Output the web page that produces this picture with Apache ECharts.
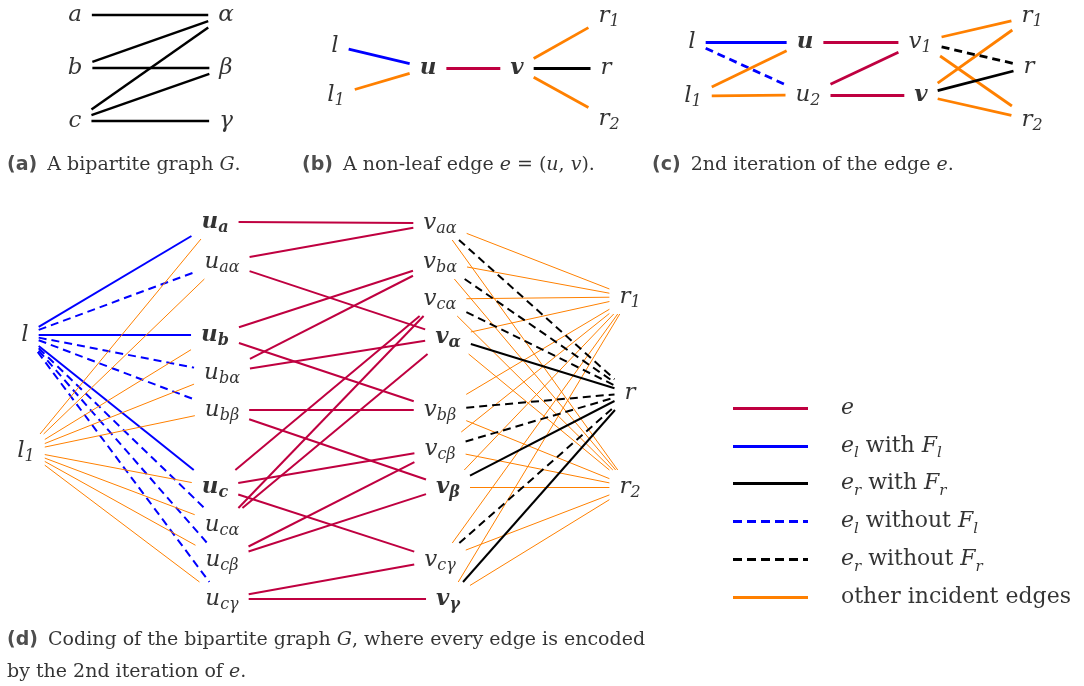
<!DOCTYPE html>
<html lang="en">
<head>
<meta charset="UTF-8">
<title>Coding of a bipartite graph</title>
<script src="https://cdn.jsdelivr.net/npm/echarts@6/dist/echarts.min.js"></script>
<style>
  html, body { margin: 0; padding: 0; background: #fff; }
  #chart { width: 1084px; height: 686px; }
</style>
</head>
<body>
<div id="chart"></div>
<script>
// ---------- data ----------
// the bipartite graph G
var leftNodes = ['a', 'b', 'c'];
var rightNodes = ['α', 'β', 'γ'];
var edgesG = [['a', 'α'], ['b', 'α'], ['b', 'β'], ['c', 'α'], ['c', 'β'], ['c', 'γ']];

// (b) a non-leaf edge e = (u, v): [from, to, kind]
var edgesB = [['l', 'u', 'elF'], ['l_1', 'u', 'o'], ['u', 'v', 'e'],
              ['v', 'r_1', 'o'], ['v', 'r', 'erF'], ['v', 'r_2', 'o']];

// (c) 2nd iteration of e (also the template used for every edge in (d))
var edgesC = [['l', 'u', 'elF'], ['l', 'u_2', 'el'], ['l_1', 'u', 'o'], ['l_1', 'u_2', 'o'],
              ['u', 'v_1', 'e'], ['u_2', 'v_1', 'e'], ['u_2', 'v', 'e'],
              ['v_1', 'r_1', 'o'], ['v_1', 'r', 'er'], ['v_1', 'r_2', 'o'],
              ['v', 'r_1', 'o'], ['v', 'r', 'erF'], ['v', 'r_2', 'o']];

var boldNodes = ['u', 'v', 'u_a', 'u_b', 'u_c', 'v_α', 'v_β', 'v_γ'];

var legendKinds = ['e', 'elF', 'erF', 'el', 'er', 'o'];
var legendLabels = [
    '{li|e}',
    '{li|e}{ls|l}{lg| with }{li|F}{ls|l}',
    '{li|e}{ls|r}{lg| with }{li|F}{ls|r}',
    '{li|e}{ls|l}{lg| without }{li|F}{ls|l}',
    '{li|e}{ls|r}{lg| without }{li|F}{ls|r}',
    '{lg|other incident edges}'
];

var captions = [
    '{cb|(a)}{ct| A bipartite graph }{ci|G}{ct|.}',
    '{cb|(b)}{ct| A non-leaf edge }{ci|e}{ct| = (}{ci|u}{ct|, }{ci|v}{ct|).}',
    '{cb|(c)}{ct| 2nd iteration of the edge }{ci|e}{ct|.}',
    '{cb|(d)}{ct| Coding of the bipartite graph }{ci|G}{ct|, where every edge is encoded}\n{ct|by the 2nd iteration of }{ci|e}{ct|.}'
];

// ---------- layout (pixel positions) ----------
var posA = {a: [75, 15], b: [75, 68], c: [75, 121], 'α': [226, 15], 'β': [226, 68], 'γ': [226, 121]};
var posB = {l: [335, 46], l_1: [336, 95], u: [428, 68], v: [517, 68],
            r_1: [609, 16], r: [606, 68], r_2: [609, 119]};
var posC = {l: [692, 42], l_1: [693, 96], u: [805, 42], u_2: [808, 95], v_1: [920, 42], v: [921, 95],
            r_1: [1032, 16], r: [1029, 67], r_2: [1032, 120]};
var posD = {
    l: [25, 335], l_1: [26, 451],
    u_a: [215, 222], 'u_aα': [222, 262], u_b: [215, 335], 'u_bα': [222, 373], 'u_bβ': [222, 410],
    u_c: [215, 487], 'u_cα': [222, 525], 'u_cβ': [222, 560], 'u_cγ': [222, 599],
    'v_aα': [440, 223], 'v_bα': [440, 262], 'v_cα': [440, 299], 'v_α': [448, 337],
    'v_bβ': [440, 410], 'v_cβ': [440, 449], 'v_β': [448, 487], 'v_cγ': [440, 560], 'v_γ': [448, 599],
    r_1: [630, 297], r: [630, 393], r_2: [630, 487]
};
var captionPos = [[7, 165], [302, 165], [652, 165], [7, 656]];
var legendX = [733, 808], legendTextX = 841, legendY0 = 408, legendStep = 37.8;

var FONT = '"DejaVu Serif", serif';
var MAIN = 23, SUB = 16;
var kinds = {
    g:   {color: '#000000', type: 'solid'},
    e:   {color: '#bf0040', type: 'solid'},
    elF: {color: '#0000ff', type: 'solid'},
    erF: {color: '#000000', type: 'solid'},
    el:  {color: '#0000ff', type: [8, 5]},
    er:  {color: '#000000', type: [8, 5]},
    o:   {color: '#ff8000', type: 'solid'}
};

// (a) edges from G, (d) edges: template (c) applied to every edge of G
var edgesA = edgesG.map(function (p) { return [p[0], p[1], 'g']; });
var edgesD = [];
var seen = {};
edgesG.forEach(function (p) {
    var map = {l: 'l', l_1: 'l_1', r: 'r', r_1: 'r_1', r_2: 'r_2',
               u: 'u_' + p[0], u_2: 'u_' + p[0] + p[1], v_1: 'v_' + p[0] + p[1], v: 'v_' + p[1]};
    edgesC.forEach(function (t) {
        var k = map[t[0]] + '|' + map[t[1]];
        if (!seen[k]) { seen[k] = 1; edgesD.push([map[t[0]], map[t[1]], t[2]]); }
    });
});

// text width of a node label, used to clip edges at the node box
var ctx = document.createElement('canvas').getContext('2d');
function labelWidth(id) {
    var parts = id.split('_');
    var b = boldNodes.indexOf(id) >= 0 ? 'italic bold ' : 'italic ';
    ctx.font = b + MAIN + 'px ' + FONT;
    var w = ctx.measureText(parts[0]).width;
    if (parts[1]) { ctx.font = b + SUB + 'px ' + FONT; w += ctx.measureText(parts[1]).width; }
    return w;
}
function labelText(id) {
    var parts = id.split('_');
    var bold = boldNodes.indexOf(id) >= 0;
    var s = '{' + (bold ? 'mb' : 'm') + '|' + parts[0] + '}';
    if (parts[1]) s += '{' + (bold ? 'sb' : 's') + '|' + parts[1] + '}';
    return s;
}
function clip(p, q, hw, hh) {
    var dx = q[0] - p[0], dy = q[1] - p[1];
    var t = Math.min(dx ? hw / Math.abs(dx) : Infinity, dy ? hh / Math.abs(dy) : Infinity);
    return [p[0] + dx * t, p[1] + dy * t];
}

var panels = [
    {pos: posA, edges: edgesA, hh: 13, width: 2.4, thin: 2.4},
    {pos: posB, edges: edgesB, hh: 13, width: 2.8, thin: 2.8},
    {pos: posC, edges: edgesC, hh: 14, width: 2.8, thin: 2.8},
    {pos: posD, edges: edgesD, hh: 17, width: 2, thin: 1}
];

var series = [];
var nodeData = [];
panels.forEach(function (pn) {
    var groups = {};
    pn.edges.forEach(function (ed) {
        var p = pn.pos[ed[0]], q = pn.pos[ed[1]];
        var a = clip(p, q, labelWidth(ed[0]) / 2 + 10, pn.hh);
        var b = clip(q, p, labelWidth(ed[1]) / 2 + 10, pn.hh);
        (groups[ed[2]] = groups[ed[2]] || []).push({coords: [a, b]});
    });
    Object.keys(groups).forEach(function (k) {
        series.push({
            type: 'lines', coordinateSystem: 'cartesian2d', silent: true,
            data: groups[k],
            lineStyle: {color: kinds[k].color, type: kinds[k].type, opacity: 1, curveness: 0,
                        width: k === 'o' ? pn.thin : pn.width}
        });
    });
    Object.keys(pn.pos).forEach(function (id) {
        nodeData.push({value: pn.pos[id], txt: labelText(id)});
    });
});

// legend sample lines
legendKinds.forEach(function (k, i) {
    var y = legendY0 + i * legendStep;
    series.push({
        type: 'lines', coordinateSystem: 'cartesian2d', silent: true,
        data: [{coords: [[legendX[0], y], [legendX[1], y]]}],
        lineStyle: {color: kinds[k].color, type: k === 'el' || k === 'er' ? [9, 5] : 'solid',
                    opacity: 1, width: 3}
    });
});

var rich = {
    m:  {fontFamily: FONT, fontStyle: 'italic', fontSize: MAIN, lineHeight: 28, color: '#000'},
    mb: {fontFamily: FONT, fontStyle: 'italic', fontWeight: 'bold', fontSize: MAIN, lineHeight: 28, color: '#000'},
    s:  {fontFamily: FONT, fontStyle: 'italic', fontSize: SUB, lineHeight: 15, verticalAlign: 'bottom', color: '#000'},
    sb: {fontFamily: FONT, fontStyle: 'italic', fontWeight: 'bold', fontSize: SUB, lineHeight: 15, verticalAlign: 'bottom', color: '#000'},
    lg: {fontFamily: FONT, fontSize: 22, lineHeight: 30, color: '#000'},
    li: {fontFamily: FONT, fontStyle: 'italic', fontSize: 22, lineHeight: 30, color: '#000'},
    ls: {fontFamily: FONT, fontStyle: 'italic', fontSize: 15, lineHeight: 15, verticalAlign: 'bottom', color: '#000'},
    ct: {fontFamily: FONT, fontSize: 19, lineHeight: 32, color: '#000'},
    ci: {fontFamily: FONT, fontStyle: 'italic', fontSize: 19, lineHeight: 32, color: '#000'},
    cb: {fontFamily: '"DejaVu Sans", sans-serif', fontWeight: 'bold', fontSize: 19, lineHeight: 32,
         color: '#222', padding: [0, 4, 0, 0]}
};

var textData = [];
captions.forEach(function (c, i) { textData.push({value: captionPos[i], txt: c}); });
legendLabels.forEach(function (t, i) {
    textData.push({value: [legendTextX, legendY0 + i * legendStep], txt: t});
});

series.push({
    type: 'scatter', silent: true, symbolSize: 1,
    itemStyle: {color: 'rgba(0,0,0,0)'},
    data: nodeData,
    label: {show: true, position: 'inside', color: '#000', textBorderWidth: 0, rich: rich,
            formatter: function (p) { return p.data.txt; }}
});
series.push({
    type: 'scatter', silent: true, symbolSize: 1,
    itemStyle: {color: 'rgba(0,0,0,0)'},
    data: textData,
    label: {show: true, position: 'inside', align: 'left', color: '#000', textBorderWidth: 0, rich: rich,
            formatter: function (p) { return p.data.txt; }}
});

var chart = echarts.init(document.getElementById('chart'));
chart.setOption({
    animation: false,
    grid: {left: 0, right: 0, top: 0, bottom: 0},
    xAxis: {type: 'value', min: 0, max: 1084, show: false},
    yAxis: {type: 'value', min: 0, max: 686, inverse: true, show: false},
    series: series
});
</script>
</body>
</html>
